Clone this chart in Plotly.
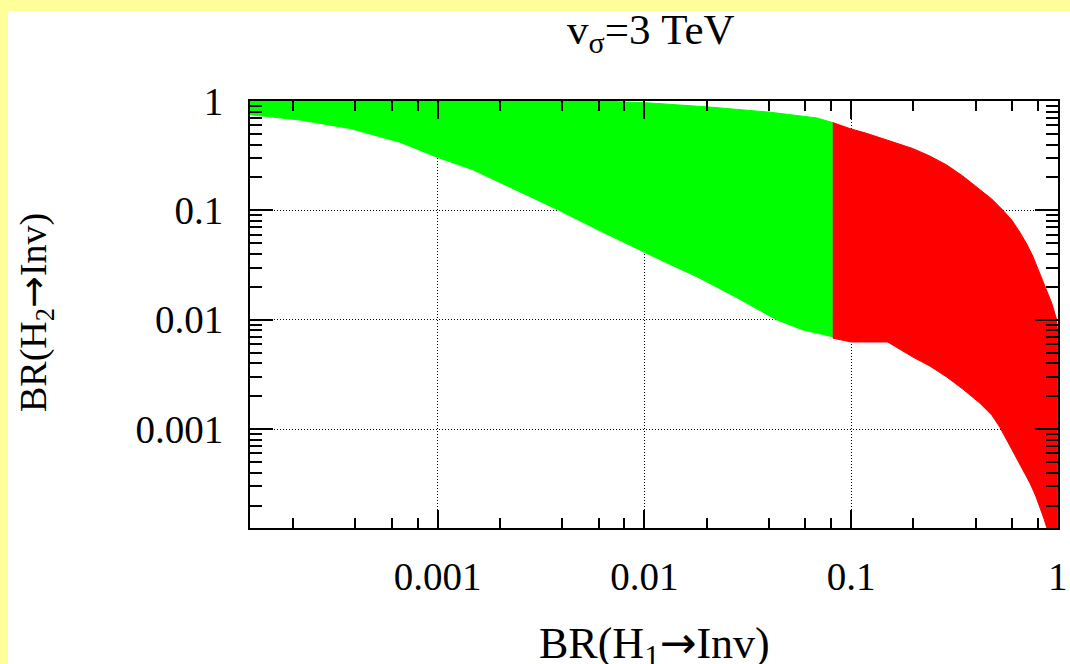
import plotly.graph_objects as go

# ---------------- data ----------------
# Green region (BR(H1->Inv) below the cut)
green_upper_x = [1.236e-4, 1.48e-3, 6.1e-3, 0.0106, 0.0207, 0.0405, 0.0683, 0.0815]
green_upper_y = [1.0, 1.0, 1.0, 0.96, 0.88, 0.79, 0.70, 0.635]
green_lower_x = [0.0815, 0.0586, 0.0436, 0.0279, 0.0179, 0.0130, 0.00987, 0.0062,
                 3.83e-3, 2.7e-3, 2.0e-3, 1.48e-3, 1.0e-3, 6.57e-4, 3.77e-4,
                 2.16e-4, 1.236e-4]
green_lower_y = [0.0070, 0.00807, 0.0100, 0.0160, 0.0248, 0.0327, 0.0419, 0.0640,
                 0.101, 0.138, 0.182, 0.235, 0.305, 0.420, 0.560,
                 0.670, 0.750]

# Red region
red_upper_x = [0.0815, 0.1, 0.1178, 0.1376, 0.1645, 0.1988, 0.2402, 0.2903, 0.3468,
               0.4192, 0.4791, 0.5416, 0.5985, 0.6541, 0.7074, 0.7563, 0.7995,
               0.8454, 0.8938, 0.9345, 0.9879, 1.0, 1.0]
red_upper_y = [0.635, 0.555, 0.509, 0.4638, 0.4175, 0.368, 0.3144, 0.260, 0.2063,
               0.1569, 0.1271, 0.1008, 0.0817, 0.0635, 0.0493, 0.0383, 0.0298,
               0.0231, 0.01795, 0.01424, 0.0100, 0.0070, 1.25e-4]
red_lower_x = [0.886, 0.8551, 0.8176, 0.7820, 0.7330, 0.6690, 0.6051, 0.5236,
               0.4791, 0.4192, 0.3468, 0.2903, 0.2402, 0.1988, 0.1704, 0.1503,
               0.110, 0.1, 0.0815]
red_lower_y = [1.25e-4, 1.543e-4, 1.945e-4, 2.45e-4, 3.22e-4, 4.51e-4, 6.32e-4,
               1.047e-3, 1.348e-3, 1.736e-3, 2.33e-3, 3.0e-3, 3.78e-3, 4.57e-3,
               5.41e-3, 6.27e-3, 6.27e-3, 6.27e-3, 6.8e-3]

tick_vals = [0.001, 0.01, 0.1, 1]
tick_text = ["0.001", "0.01", "0.1", "1"]
x_minor_vals = [m * 10.0 ** e for e in (-4, -3, -2, -1) for m in (2, 4, 6, 8)]
y_minor_vals = [m * 10.0 ** e for e in (-4, -3, -2, -1) for m in range(2, 10)]

ARROW = "<span style=\"font-family:'DejaVu Sans'\">→</span>"
title_text = "v<sub>σ</sub>=3 TeV"
x_title = "BR(H<sub>1</sub>" + ARROW + "Inv)"
y_title = "BR(H<sub>2</sub>" + ARROW + "Inv)"

# ---------------- figure ----------------
W, H = 1070, 664
L, R, T, B = 250, 12, 101, 136
PW, PH = W - L - R, H - T - B


def px(xp):
    return (xp - L) / PW


def py(yp):
    return (H - B - yp) / PH


FONT = "Liberation Serif, Times New Roman, serif"

fig = go.Figure()
fig.add_trace(go.Scatter(
    x=green_upper_x + green_lower_x, y=green_upper_y + green_lower_y,
    mode="lines", fill="toself", fillcolor="#00FF00",
    line=dict(color="#00FF00", width=1), hoverinfo="skip", showlegend=False))
fig.add_trace(go.Scatter(
    x=red_upper_x + red_lower_x, y=red_upper_y + red_lower_y,
    mode="lines", fill="toself", fillcolor="#FF0000",
    line=dict(color="#FF0000", width=1), hoverinfo="skip", showlegend=False))

axis_common = dict(
    type="log", showline=True, linecolor="black", linewidth=2,
    mirror="allticks", ticks="inside", tickcolor="black", tickwidth=2,
    tickmode="array", tickvals=tick_vals, ticktext=tick_text,
    showgrid=True, gridcolor="black", gridwidth=1, griddash="1px,2px",
    zeroline=False, layer="above traces",
    tickfont=dict(family=FONT, size=39, color="black"),
)

fig.update_xaxes(**axis_common, range=[-3.908, 0.001], ticklen=18,
                 ticklabelstandoff=13,
                 minor=dict(tickmode="array", tickvals=x_minor_vals, ticks="inside",
                            ticklen=10, tickwidth=2, tickcolor="black", showgrid=False))
fig.update_yaxes(**axis_common, range=[-3.903, 0.0], ticklen=23,
                 ticklabelstandoff=17,
                 minor=dict(tickmode="array", tickvals=y_minor_vals, ticks="inside",
                            ticklen=12, tickwidth=2, tickcolor="black", showgrid=False))

fig.update_layout(
    width=W, height=H,
    margin=dict(l=L, r=R, t=T, b=B, autoexpand=False),
    paper_bgcolor="#FFFF99", plot_bgcolor="white",
    showlegend=False,
    shapes=[dict(type="rect", xref="paper", yref="paper",
                 x0=px(8), x1=px(W + 20), y0=py(H + 20), y1=py(11),
                 fillcolor="white", line=dict(width=0), layer="below")],
    annotations=[
        dict(text=title_text, xref="paper", yref="paper", x=px(651), y=py(33),
             xanchor="center", yanchor="middle", showarrow=False,
             font=dict(family=FONT, size=43, color="black")),
        dict(text=x_title, xref="paper", yref="paper", x=px(654), y=py(646),
             xanchor="center", yanchor="middle", showarrow=False,
             font=dict(family=FONT, size=44, color="black")),
        dict(text=y_title, xref="paper", yref="paper", x=px(35), y=py(313),
             xanchor="center", yanchor="middle", showarrow=False, textangle=-90,
             font=dict(family=FONT, size=38, color="black")),
    ],
)

fig.write_html("out.html")
